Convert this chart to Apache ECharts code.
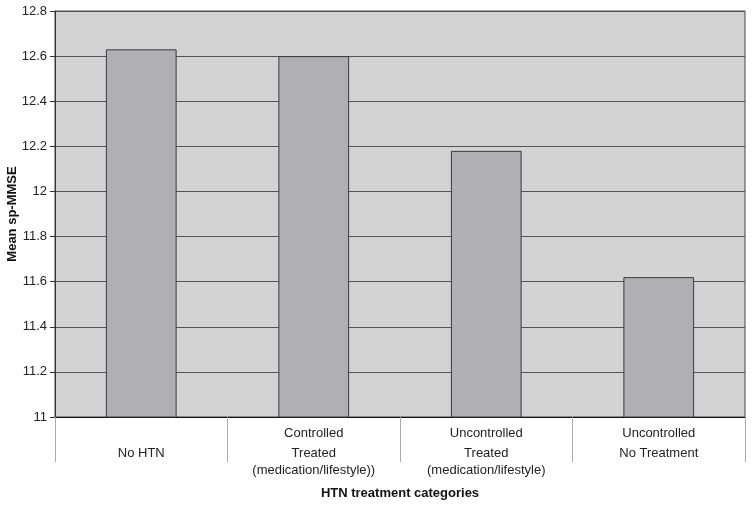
<!DOCTYPE html>
<html>
<head>
<meta charset="utf-8">
<script src="https://cdn.jsdelivr.net/npm/echarts@6/dist/echarts.min.js"></script>
<style>
  html, body { margin: 0; padding: 0; background: #fff; }
  #chart { width: 752px; height: 505px; }
</style>
</head>
<body>
<div id="chart"></div>
<script>
// categories: [inner level, outer level]
const categories = [
  ['', 'No HTN'],
  ['Controlled', 'Treated\n(medication/lifestyle))'],
  ['Uncontrolled', 'Treated\n(medication/lifestyle)'],
  ['Uncontrolled', 'No Treatment']
]
const meanScores = [12.63, 12.6, 12.18, 11.62]
const yTicks = { min: 11, max: 12.8, interval: 0.2 }
const yTitle = 'Mean sp-MMSE'
const xTitle = 'HTN treatment categories'

const chart = echarts.init(document.getElementById('chart'))

function catLabel(c) {
  const outer = c[1].split('\n').map(s => '{b|' + s + '}').join('\n')
  return '{a|' + (c[0] || ' ') + '}\n' + outer
}

chart.setOption({
  animation: false,
  textStyle: { fontFamily: 'Liberation Sans, Arial, sans-serif' },
  grid: {
    left: 55,
    right: 7,
    top: 11,
    bottom: 88,
    outerBoundsMode: 'none',
    containLabel: false,
    show: true,
    backgroundColor: '#d3d3d3',
    borderColor: '#444',
    borderWidth: 1
  },
  // y axis title placed by hand, the axis name kept drifting left
  graphic: [{
    type: 'text',
    x: 12,
    y: 214,
    rotation: Math.PI / 2,
    style: {
      text: yTitle,
      fill: '#111',
      font: 'bold 13px Liberation Sans, Arial, sans-serif',
      align: 'center',
      verticalAlign: 'middle'
    }
  }],
  xAxis: {
    type: 'category',
    data: categories.map(catLabel),
    name: xTitle,
    nameLocation: 'middle',
    nameGap: 70,
    nameTextStyle: { fontWeight: 'bold', fontSize: 13, color: '#111' },
    axisLine: { lineStyle: { color: '#111', width: 1 } },
    axisTick: { show: true, length: 45, interval: 0, lineStyle: { color: '#aaa' } },
    axisLabel: {
      interval: 0,
      margin: 5,
      color: '#222',
      rich: {
        a: { fontSize: 13, lineHeight: 23, color: '#222' },
        b: { fontSize: 13, lineHeight: 17, color: '#222' }
      }
    }
  },
  yAxis: {
    type: 'value',
    min: yTicks.min,
    max: yTicks.max,
    interval: yTicks.interval,
    axisLine: { show: true, lineStyle: { color: '#333' } },
    axisTick: { show: true, length: 5, lineStyle: { color: '#333' } },
    axisLabel: {
      fontSize: 13,
      color: '#222',
      margin: 8,
      formatter: v => String(Math.round(v * 10) / 10)
    },
    splitLine: { lineStyle: { color: '#555', width: 1 } }
  },
  series: [{
    type: 'bar',
    data: meanScores,
    barCategoryGap: '59%',
    itemStyle: { color: '#b0b0b4', borderColor: '#3a3a3a', borderWidth: 1 }
  }]
})
</script>
</body>
</html>
